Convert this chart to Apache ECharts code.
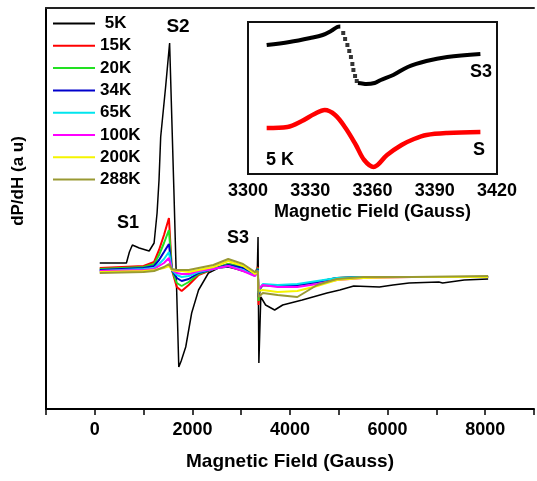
<!DOCTYPE html>
<html>
<head>
<meta charset="utf-8">
<script src="https://cdn.jsdelivr.net/npm/echarts@6/dist/echarts.min.js"></script>
<style>
  html, body { margin: 0; padding: 0; background: #fff; }
  #chart { width: 537px; height: 481px; }
</style>
</head>
<body>
<div id="chart"></div>
<script>
// 温度列表（图例）
const temps = ['5K', '15K', '20K', '34K', '65K', '100K', '200K', '288K'];
const colors = ['#000000', '#ff0000', '#22e022', '#0000cc', '#00e5ee', '#ff00ff', '#f5f500', '#999933'];

// 5K 曲线 (field, dP/dH)
const field5K = [101, 648, 709, 770, 911, 1114, 1215, 1276, 1316, 1350, 1451, 1533, 1620, 1721, 1770, 1863, 1985, 2126, 2329, 2531, 2734, 2900, 3100, 3281, 3330, 3345, 3362, 3402, 3500, 3686, 3850, 4250, 4759, 5020, 5306, 5832, 6110, 6440, 7050, 7128, 7570, 8060];
const dpdh5K = [146, 146, 157, 164, 161, 158, 166, 196, 229, 272, 322, 366, 220, 42, 48, 62, 96, 119, 136, 141, 142, 140, 137, 134, 138, 172, 46, 112, 104, 99, 104, 109, 116, 119, 123, 122, 124, 126, 127, 126, 129, 130];

// 其他温度共用的磁场点
const fieldT = [101, 1000, 1215, 1316, 1418, 1519, 1580, 1680, 1780, 1924, 2126, 2430, 2734, 3038, 3281, 3340, 3355, 3380, 3443, 3746, 4150, 4556, 4961, 5500, 6500, 8060];
const dpdh15K  = [141, 143, 147, 159, 174, 191, 139, 122, 118, 124, 134, 140, 145, 142, 135, 142, 104, 120, 124, 123, 124, 127, 131, 132, 132, 132];
const dpdh20K  = [140, 142, 145, 154, 166, 179, 139, 126, 123, 127, 135, 140, 145, 142, 135, 141, 108, 120, 124, 123, 124, 127, 131, 132, 132, 132];
const dpdh34K  = [139, 141, 143, 149, 157, 165, 139, 131, 128, 130, 136, 140, 144, 141, 134, 140, 112, 120, 124, 123, 124, 127, 131, 132, 132, 132];
const dpdh65K  = [138, 140, 141, 145, 150, 157, 139, 134, 132, 133, 137, 140, 143, 139, 133, 139, 116, 121, 125, 124, 125, 128, 131, 132, 132, 132];
const dpdh100K = [138, 139, 140, 143, 146, 151, 139, 136, 135, 135, 138, 140, 143, 138, 133, 138, 120, 122, 124, 122, 122, 125, 129, 131, 132, 132];
const dpdh200K = [137, 138, 139, 140, 141, 143, 139, 138, 138, 137, 139, 142, 148, 143, 135, 137, 118, 118, 119, 117, 118, 123, 129, 131, 132, 132];
const dpdh288K = [136, 137, 138, 140, 142, 145, 140, 139, 139, 139, 141, 144, 150, 145, 137, 138, 112, 114, 116, 114, 112, 124, 130, 132, 132, 133];

// 插图：S3 (5 K)，实线部分 + 陡降处的点
const insetS3Field = [3309, 3320, 3330, 3336, 3340, 3343, 3344.5, null, 3353, 3355, 3357, 3361, 3364, 3370, 3377, 3386, 3396, 3412];
const insetS3Value = [129, 132, 136, 139, 143, 147, 147.5, null, 91, 90.5, 90, 91, 94, 99, 107, 113, 117, 120];
const insetDotField = [3345.9, 3346.8, 3347.9, 3348.8, 3349.6, 3350.3, 3350.8, 3351.6, 3352.4];
const insetDotValue = [141, 135, 129, 123, 117, 110, 104, 98, 93];
// 插图：S (红色)
const insetSField = [3309, 3319, 3326, 3332, 3337, 3342, 3347, 3352, 3356, 3360.5, 3367, 3374, 3380, 3386, 3396, 3412];
const insetSValue = [46, 47, 53, 60, 64, 59, 46, 29, 14, 7, 19, 29, 35, 39, 41, 42];

// 主图刻度标签
const mainTicks = [0, 2000, 4000, 6000, 8000];

const zip = (xs, ys) => xs.map((x, i) => (x === null ? [null, null] : [x, ys[i]]));
const mainSeries = [
  zip(field5K, dpdh5K),
  zip(fieldT, dpdh15K),
  zip(fieldT, dpdh20K),
  zip(fieldT, dpdh34K),
  zip(fieldT, dpdh65K),
  zip(fieldT, dpdh100K),
  zip(fieldT, dpdh200K),
  zip(fieldT, dpdh288K)
];

const FONT = 'Liberation Sans';
const chart = echarts.init(document.getElementById('chart'));

const series = temps.map((t, i) => ({
  name: t,
  type: 'line',
  xAxisIndex: 0,
  yAxisIndex: 0,
  symbol: 'none',
  color: colors[i],
  lineStyle: { width: i === 0 ? 1.5 : 2, color: colors[i] },
  data: mainSeries[i],
  z: i === 0 ? 2 : 3
}));

series.push({
  name: 'inset S3',
  type: 'line',
  xAxisIndex: 2,
  yAxisIndex: 1,
  symbol: 'none',
  smooth: 0.35,
  connectNulls: false,
  lineStyle: { width: 4, color: '#000' },
  data: zip(insetS3Field, insetS3Value)
});
series.push({
  name: 'inset dots',
  type: 'scatter',
  xAxisIndex: 2,
  yAxisIndex: 1,
  symbol: 'rect',
  symbolSize: 4,
  itemStyle: { color: '#000' },
  data: zip(insetDotField, insetDotValue)
});
series.push({
  name: 'inset S',
  type: 'line',
  xAxisIndex: 2,
  yAxisIndex: 1,
  symbol: 'none',
  smooth: 0.35,
  lineStyle: { width: 4.5, color: '#ff0000' },
  data: zip(insetSField, insetSValue)
});

const boldText = (text, x, y, size) => ({
  type: 'text',
  x: x,
  y: y,
  style: {
    text: text,
    fontFamily: FONT,
    fontWeight: 'bold',
    fontSize: size,
    fill: '#000',
    align: 'center',
    verticalAlign: 'middle'
  }
});

const option = {
  animation: false,
  backgroundColor: '#fff',
  textStyle: { fontFamily: FONT },
  grid: [
    { left: 46, top: 8, width: 494, height: 401 },
    { left: 248, top: 22, width: 249, height: 152, show: true, borderColor: '#111', borderWidth: 2, backgroundColor: 'rgba(0,0,0,0)' }
  ],
  legend: {
    data: temps,
    orient: 'vertical',
    left: 53,
    top: 15,
    padding: 0,
    icon: 'rect',
    itemWidth: 42,
    itemHeight: 2,
    itemGap: 5.3,
    formatter: (n) => (n === '5K' ? ' 5K' : n),
    textStyle: { fontFamily: FONT, fontWeight: 'bold', fontSize: 17, color: '#000' }
  },
  xAxis: [
    {
      gridIndex: 0,
      type: 'value',
      position: 'bottom',
      min: -1000,
      max: 9000,
      interval: 1000,
      axisLine: { onZero: false, lineStyle: { color: '#000', width: 2 } },
      axisTick: { show: true, length: 6, lineStyle: { color: '#000', width: 1.5 } },
      axisLabel: {
        color: '#000',
        fontWeight: 'bold',
        fontSize: 18,
        margin: 12,
        formatter: (v) => (mainTicks.includes(v) ? String(v) : '')
      },
      splitLine: { show: false },
      name: 'Magnetic Field (Gauss)',
      nameLocation: 'middle',
      nameGap: 43,
      nameTextStyle: { color: '#000', fontWeight: 'bold', fontSize: 19 }
    },
    {
      gridIndex: 0,
      type: 'value',
      position: 'top',
      min: -1000,
      max: 9000,
      axisLine: { onZero: false, lineStyle: { color: '#222', width: 2 } },
      axisTick: { show: false },
      axisLabel: { show: false },
      splitLine: { show: false }
    },
    {
      gridIndex: 1,
      type: 'value',
      min: 3300,
      max: 3420,
      interval: 30,
      axisLine: { show: false },
      axisTick: { show: false },
      axisLabel: { color: '#000', fontWeight: 'bold', fontSize: 18, margin: 8, formatter: (v) => String(v) },
      splitLine: { show: false },
      name: 'Magnetic Field (Gauss)',
      nameLocation: 'middle',
      nameGap: 29,
      nameTextStyle: { color: '#000', fontWeight: 'bold', fontSize: 18 }
    }
  ],
  yAxis: [
    {
      gridIndex: 0,
      type: 'value',
      min: 0,
      max: 401,
      axisLine: { show: true, onZero: false, lineStyle: { color: '#000', width: 2 } },
      axisTick: { show: false },
      axisLabel: { show: false },
      splitLine: { show: false }
    },
    {
      gridIndex: 1,
      type: 'value',
      min: 0,
      max: 152,
      axisLine: { show: false },
      axisTick: { show: false },
      axisLabel: { show: false },
      splitLine: { show: false }
    }
  ],
  graphic: [
    Object.assign(boldText('dP/dH (a u)', 18, 181, 17), { rotation: Math.PI / 2 }),
    boldText('S1', 128, 223, 18),
    boldText('S2', 178, 27, 19),
    boldText('S3', 238, 238, 18),
    boldText('S3', 481, 72, 18),
    boldText('S', 479, 150, 18),
    boldText('5 K', 280, 160, 18)
  ],
  series: series
};

chart.setOption(option);
</script>
</body>
</html>
